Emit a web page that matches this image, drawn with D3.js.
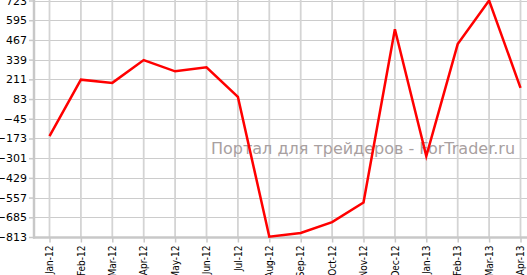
<!DOCTYPE html>
<html>
  <head>
    <meta charset="utf-8">
    <title>Chart</title>
    <script src="https://cdn.jsdelivr.net/npm/d3@7"></script>
    <style>
      body { margin: 0; background: #fff; }
      svg { display: block; }
    </style>
  </head>
  <body>
    <svg id="chart"></svg>
    <script>
let months = ['Jan-12', 'Feb-12', 'Mar-12', 'Apr-12', 'May-12', 'Jun-12', 'Jul-12', 'Aug-12',
  'Sep-12', 'Oct-12', 'Nov-12', 'Dec-12', 'Jan-13', 'Feb-13', 'Mar-13', 'Apr-13'];
let values = [-158, 209, 188, 336, 263, 289, 97, -811, -787, -716, -589, 536, -287, 440, 723, 156];
let yTicks = [723, 595, 467, 339, 211, 83, -45, -173, -301, -429, -557, -685, -813];
let watermark = 'Портал для трейдеров - ForTrader.ru';

let width = 527, height = 275;
let svg = d3.select('#chart')
  .attr('width', width)
  .attr('height', height);

let x = d3.scalePoint()
  .domain(months)
  .range([49.5, 520.5]);

let y = d3.scaleLinear()
  .domain([-813, 723])
  .range([237, 0.5]);

let left = 34, bottom = 237.5;

// grid
svg.append('g')
  .selectAll('line')
  .data(yTicks)
  .enter()
  .append('line')
  .attr('x1', left)
  .attr('x2', width)
  .attr('y1', d => Math.round(y(d)) + 0.5)
  .attr('y2', d => Math.round(y(d)) + 0.5)
  .attr('stroke', '#cccccc')
  .attr('stroke-width', 1);

svg.append('g')
  .selectAll('line')
  .data(months)
  .enter()
  .append('line')
  .attr('x1', d => x(d))
  .attr('x2', d => x(d))
  .attr('y1', 0)
  .attr('y2', bottom)
  .attr('stroke', '#d4d4d4')
  .attr('stroke-width', 1.8);

// watermark
svg.append('text')
  .attr('x', 211)
  .attr('y', 154)
  .attr('font-family', 'DejaVu Sans')
  .attr('font-size', 16)
  .attr('fill', '#a8a0a0')
  .text(watermark);

// axes
let yAxis = d3.axisLeft(y)
  .tickValues(yTicks)
  .tickSize(5)
  .tickPadding(2);

let gy = svg.append('g')
  .attr('transform', 'translate(' + left + ',0)')
  .call(yAxis);
gy.select('.domain').remove();
gy.selectAll('.tick line').attr('stroke', '#c8c8c8').attr('stroke-width', 1.5);
gy.selectAll('.tick text')
  .attr('font-family', 'DejaVu Sans')
  .attr('font-size', 11)
  .attr('fill', '#000');

let xAxis = d3.axisBottom(x)
  .tickSize(5)
  .tickPadding(3);

let gx = svg.append('g')
  .attr('transform', 'translate(0,' + bottom + ')')
  .call(xAxis);
gx.select('.domain').remove();
gx.selectAll('.tick line').attr('stroke', '#c8c8c8').attr('stroke-width', 1.5);
gx.selectAll('.tick text')
  .attr('font-family', '"DejaVu Sans Condensed", "DejaVu Sans"')
  .attr('font-stretch', 'condensed')
  .attr('font-size', 10)
  .attr('fill', '#000')
  .attr('transform', 'rotate(-90)')
  .attr('text-anchor', 'end')
  .attr('dy', '0.32em')
  .attr('x', -8)
  .attr('y', 0);

svg.append('line')
  .attr('x1', left).attr('x2', left)
  .attr('y1', 0).attr('y2', bottom + 1)
  .attr('stroke', '#c8c8c8')
  .attr('stroke-width', 2.5);

svg.append('line')
  .attr('x1', left - 1).attr('x2', width)
  .attr('y1', bottom).attr('y2', bottom)
  .attr('stroke', '#c8c8c8')
  .attr('stroke-width', 2.5);

// series
let line = d3.line()
  .x((d, i) => x(months[i]))
  .y(d => y(d));

svg.append('path')
  .datum(values)
  .attr('d', line)
  .attr('fill', 'none')
  .attr('stroke', '#ff0000')
  .attr('stroke-width', 2.5)
  .attr('stroke-linejoin', 'miter');
    </script>
  </body>
</html>
